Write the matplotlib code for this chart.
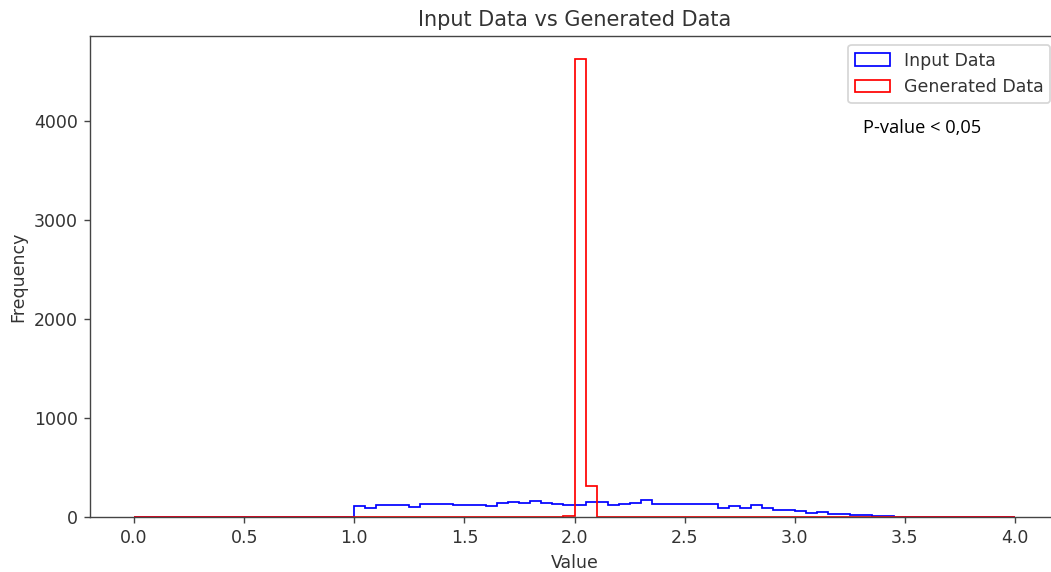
import numpy as np
import matplotlib
matplotlib.use("Agg")
import matplotlib.pyplot as plt

# Bin edges of both histograms (0 to 4, width 0.05)
bin_start = 0.0
bin_stop = 4.0
bin_count = 80

# Input data counts, bins 1.00-1.05 ... 3.40-3.45 (all other bins zero)
input_first_bin = 20
input_counts = [115, 88, 125, 125, 125, 104, 135, 135, 135, 118,
                125, 125, 111, 138, 152, 138, 158, 145, 131, 121,
                121, 148, 148, 121, 135, 138, 172, 135, 128, 128,
                128, 128, 128, 91, 115, 91, 118, 88, 67, 67,
                57, 40, 50, 27, 27, 17, 17, 12, 10]

# Generated data counts, bins 1.95-2.00, 2.00-2.05, 2.05-2.10
generated_first_bin = 39
generated_counts = [12, 4630, 310]

edges = np.linspace(bin_start, bin_stop, bin_count + 1)
centers = (edges[:-1] + edges[1:]) / 2

input_w = np.zeros(bin_count)
input_w[input_first_bin:input_first_bin + len(input_counts)] = input_counts
gen_w = np.zeros(bin_count)
gen_w[generated_first_bin:generated_first_bin + len(generated_counts)] = generated_counts

DPI = 125
plt.rcParams['text.color'] = '#333333'
plt.rcParams['axes.labelcolor'] = '#333333'
plt.rcParams['xtick.color'] = '#444444'
plt.rcParams['ytick.color'] = '#444444'
plt.rcParams['xtick.labelcolor'] = '#333333'
plt.rcParams['ytick.labelcolor'] = '#333333'
plt.rcParams['axes.edgecolor'] = '#444444'

fig = plt.figure(figsize=(1051 / DPI, 572 / DPI), dpi=DPI)
ax = fig.add_axes([90 / 1051, 55 / 572, (1059 - 90) / 1051, (536 - 55) / 572])

ax.hist(centers, bins=edges, weights=input_w, histtype='step', color='blue',
        linewidth=1.0, label='Input Data')
ax.hist(centers, bins=edges, weights=gen_w, histtype='step', color='red',
        linewidth=1.0, label='Generated Data')

ax.set_xticks(np.arange(0, 4.01, 0.5))
ax.set_title('Input Data vs Generated Data', fontsize=12)
ax.set_xlabel('Value')
ax.set_ylabel('Frequency')
ax.legend(loc='upper right', bbox_to_anchor=(1.0, 1.0), borderaxespad=0.5)
ax.text(863, 572 - 128, 'P-value < 0,05', transform=None, fontsize=10.5,
        family=['Open Sans', 'DejaVu Sans'], color='black',
        va='center', ha='left')

fig.savefig('out.png', dpi=DPI)
